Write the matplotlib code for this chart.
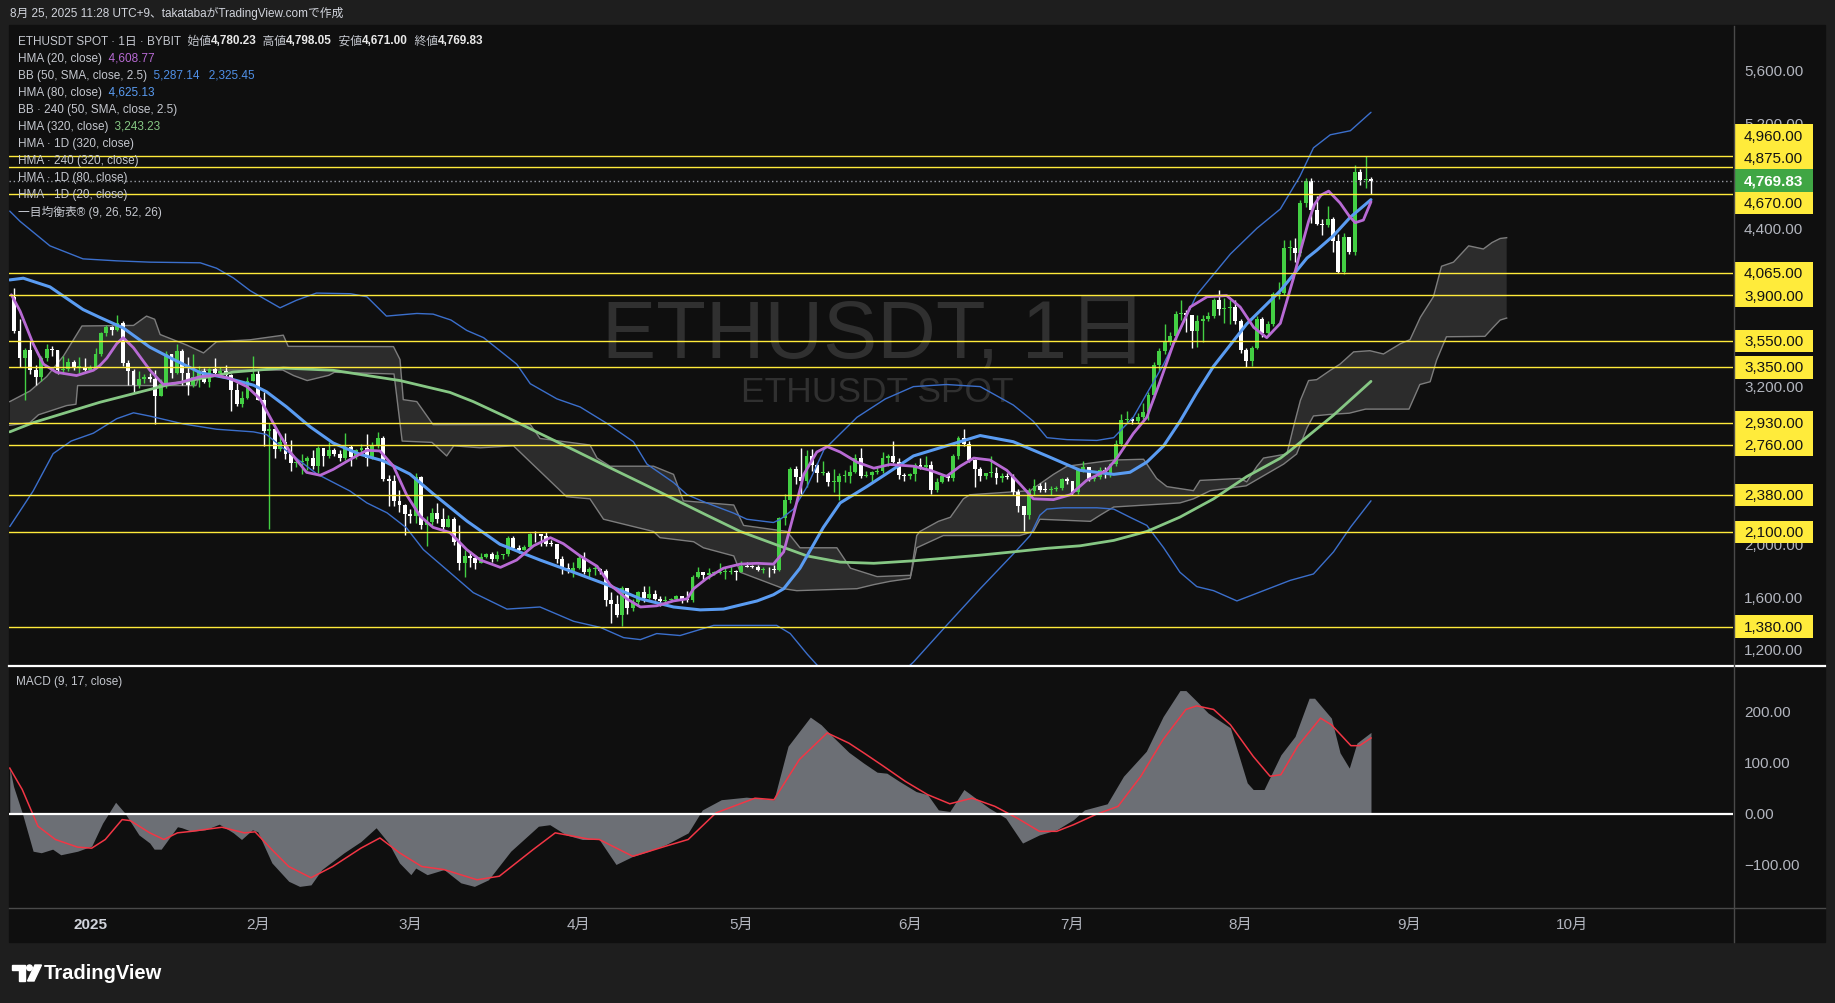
import numpy as np
import matplotlib.pyplot as plt
from matplotlib.patches import Rectangle, Polygon, Ellipse
from matplotlib.lines import Line2D
from matplotlib.transforms import blended_transform_factory as blend

plt.rcParams['font.family'] = ['Liberation Sans', 'Noto Sans CJK JP']

W, H = 1835, 1004

# ---------------- data ----------------
# day index 0 = 2025-01-01, first candle = 2024-12-18
first_day = -14
first_open = 3887.9
closes = [
    3628, 3420, 3480, 3330, 3280, 3420, 3490, 3480, 3330, 3335, 3390, 3350, 3355, 3330,  # Dec
    3355, 3450, 3610, 3655, 3635, 3685, 3380, 3325, 3220, 3265, 3280, 3265, 3135, 3225, 3450, 3310,
    3475, 3305, 3220, 3280, 3325, 3240, 3340, 3305, 3320, 3290, 3180, 3075, 3115, 3250, 3300,  # Jan
    3105, 2870, 2885, 2730, 2785, 2690, 2620, 2630, 2635, 2660, 2600, 2740, 2675, 2725, 2690, 2660,
    2745, 2670, 2720, 2740, 2660, 2760, 2815, 2500, 2490, 2335, 2305, 2235,  # Feb
    2220, 2520, 2150, 2175, 2240, 2200, 2140, 2200, 2020, 1865, 1920, 1905, 1865, 1910, 1935, 1890,
    1925, 1930, 2055, 1980, 1965, 1985, 2085, 2080, 2065, 2010, 2005, 1895, 1825, 1805, 1825,  # Mar
    1905, 1795, 1815, 1818, 1805, 1580, 1555, 1470, 1670, 1520, 1570, 1645, 1595, 1625, 1590, 1575,
    1585, 1588, 1615, 1585, 1580, 1755, 1795, 1770, 1785, 1790, 1795, 1798, 1802, 1795,  # Apr
    1840, 1836, 1834, 1810, 1816, 1814, 1810, 2205, 2345, 2580, 2515, 2490, 2680, 2610, 2545, 2548,
    2478, 2480, 2522, 2527, 2555, 2665, 2525, 2530, 2555, 2565, 2660, 2680, 2630, 2530, 2528,  # May
    2540, 2610, 2595, 2610, 2415, 2480, 2525, 2510, 2680, 2815, 2770, 2645, 2580, 2525, 2545, 2548,
    2510, 2525, 2515, 2405, 2295, 2230, 2410, 2450, 2420, 2415, 2425, 2435, 2500, 2485,  # Jun
    2405, 2570, 2590, 2505, 2515, 2570, 2540, 2615, 2770, 2950, 2960, 2940, 2970, 3010, 3140, 3370,
    3475, 3545, 3590, 3755, 3765, 3745, 3630, 3705, 3720, 3740, 3865, 3795, 3798, 3810, 3700,  # Jul
    3480, 3395, 3495, 3720, 3610, 3680, 3905, 3915, 4255, 4260, 4220, 4600, 4765, 4550, 4440, 4430,
    4475, 4310, 4075, 4340, 4230, 4835, 4775, 4780.23, 4769.83,  # Aug
]
highs = [
    3950, 3720, 3500, 3550, 3370, 3440, 3530, 3515, 3480, 3440, 3420, 3410, 3430, 3420,
    3370, 3500, 3620, 3670, 3665, 3745, 3700, 3410, 3340, 3320, 3300, 3310, 3330, 3260, 3475, 3450,
    3525, 3490, 3430, 3450, 3360, 3345, 3345, 3420, 3350, 3370, 3300, 3230, 3170, 3280, 3440,
    3330, 3160, 2925, 2890, 2830, 2855, 2800, 2650, 2690, 2680, 2720, 2750, 2730, 2780, 2735, 2720,
    2850, 2760, 2730, 2770, 2845, 2780, 2860, 2830, 2535, 2530, 2420, 2310,
    2275, 2550, 2525, 2220, 2280, 2320, 2280, 2225, 2215, 2150, 1960, 1955, 1925, 1940, 1940, 1950,
    1955, 1935, 2070, 2070, 2000, 2000, 2090, 2105, 2070, 2100, 2040, 2000, 1920, 1860, 1870,
    1925, 1950, 1835, 1840, 1825, 1820, 1640, 1620, 1690, 1670, 1590, 1650, 1685, 1690, 1660, 1610,
    1615, 1595, 1620, 1615, 1650, 1770, 1830, 1795, 1825, 1805, 1860, 1825, 1840, 1810,
    1875, 1870, 1850, 1845, 1830, 1830, 1850, 2210, 2390, 2590, 2600, 2740, 2720, 2730, 2620, 2640,
    2560, 2580, 2550, 2570, 2610, 2690, 2735, 2560, 2560, 2590, 2710, 2690, 2790, 2660, 2545,
    2545, 2620, 2660, 2680, 2640, 2510, 2535, 2540, 2690, 2830, 2880, 2790, 2650, 2590, 2550, 2680,
    2590, 2550, 2545, 2540, 2425, 2300, 2430, 2500, 2470, 2480, 2450, 2445, 2510, 2520,
    2490, 2585, 2640, 2595, 2525, 2590, 2590, 2625, 2800, 2995, 3020, 2975, 3000, 3080, 3160, 3390,
    3500, 3680, 3620, 3780, 3860, 3790, 3740, 3750, 3745, 3770, 3875, 3940, 3880, 3865, 3865,
    3720, 3500, 3510, 3740, 3730, 3700, 3920, 4000, 4320, 4320, 4330, 4620, 4790, 4790, 4650, 4480,
    4580, 4490, 4365, 4370, 4345, 4885, 4860, 4956, 4798.05,
]
lows = [
    3610, 3350, 3100, 3300, 3220, 3250, 3400, 3440, 3300, 3300, 3320, 3330, 3310, 3320,
    3325, 3340, 3440, 3590, 3600, 3630, 3360, 3220, 3160, 3190, 3230, 3240, 2920, 3130, 3190, 3270,
    3300, 3220, 3140, 3200, 3200, 3230, 3200, 3290, 3290, 3280, 3020, 3060, 3050, 3110, 3260,
    3100, 2750, 2120, 2660, 2715, 2650, 2560, 2590, 2540, 2570, 2580, 2550, 2600, 2665, 2680, 2640,
    2645, 2600, 2650, 2700, 2600, 2650, 2740, 2490, 2300, 2300, 2250, 2075,
    2170, 2170, 2120, 1995, 2150, 2170, 2110, 2135, 2000, 1810, 1755, 1830, 1820, 1860, 1900, 1870,
    1880, 1890, 1915, 1960, 1940, 1960, 1975, 2020, 1990, 1990, 1990, 1860, 1780, 1785, 1760,
    1820, 1780, 1760, 1770, 1780, 1540, 1410, 1450, 1385, 1475, 1500, 1545, 1570, 1590, 1580, 1540,
    1565, 1570, 1580, 1560, 1570, 1570, 1750, 1725, 1745, 1775, 1780, 1745, 1780, 1735,
    1795, 1830, 1825, 1800, 1790, 1760, 1790, 1805, 2150, 2320, 2460, 2390, 2440, 2560, 2480, 2530,
    2450, 2400, 2345, 2480, 2470, 2550, 2510, 2520, 2475, 2540, 2550, 2600, 2620, 2500, 2490,
    2500, 2485, 2580, 2580, 2390, 2400, 2470, 2485, 2490, 2650, 2750, 2630, 2440, 2490, 2500, 2520,
    2460, 2480, 2500, 2380, 2250, 2110, 2200, 2380, 2400, 2400, 2380, 2410, 2420, 2460,
    2380, 2390, 2555, 2490, 2490, 2505, 2510, 2520, 2600, 2750, 2930, 2920, 2925, 2960, 2950, 3120,
    3320, 3450, 3520, 3560, 3710, 3620, 3500, 3505, 3540, 3700, 3725, 3750, 3690, 3680, 3680,
    3460, 3355, 3360, 3490, 3580, 3590, 3665, 3870, 3900, 4165, 4150, 4200, 4570, 4450, 4430, 4360,
    4420, 4230, 4065, 4060, 4215, 4205, 4740, 4715, 4671,
]

# indicator lines: (day, value)
hma20 = [(-14.5, 3902), (-12.9, 3778), (-10.5, 3530), (-8.6, 3375), (-6.2, 3313), (-2.5, 3288),
         (0.6, 3328), (1.8, 3364), (3.1, 3421), (4.9, 3530), (6.1, 3576), (8.0, 3499), (11.0, 3330),
         (13.5, 3220), (16.6, 3235), (20.3, 3280), (23.3, 3290), (25.8, 3266), (28.9, 3204),
         (31.3, 3111), (34.4, 2878), (36.8, 2710), (39.9, 2552), (42.4, 2530), (44.8, 2575),
         (47.9, 2650), (51.0, 2720), (53.4, 2715), (55.9, 2599), (58.3, 2382), (60.8, 2220),
         (63.2, 2134), (66.3, 2095), (69.4, 1965), (71.9, 1886), (75.6, 1830), (78.6, 1886),
         (81.7, 1994), (84.8, 2056), (87.2, 2010), (90.3, 1917), (93.4, 1839), (95.8, 1699),
         (98.9, 1591), (101.4, 1529), (104.4, 1538), (107.5, 1575), (110.0, 1591), (111.2, 1668),
         (113.6, 1746), (116.7, 1824), (119.8, 1855), (122.9, 1861), (125.9, 1855), (127.8, 1948),
         (129.6, 2227), (131.5, 2537), (133.9, 2707), (135.8, 2748), (138.2, 2707), (141.3, 2630),
         (144.4, 2584), (147.4, 2612), (151.7, 2599), (154.8, 2568), (157.8, 2522), (160.3, 2599),
         (162.8, 2661), (165.8, 2646), (168.9, 2568), (171.4, 2460), (173.8, 2351), (177.5, 2345),
         (180.6, 2382), (183.6, 2491), (187.3, 2568), (189.2, 2661), (192.2, 2847), (194.7, 2971),
         (197.2, 3250), (199.6, 3530), (202.7, 3809), (205.8, 3887), (209.4, 3896), (211.9, 3809),
         (214.4, 3654), (216.8, 3576), (219.3, 3685), (221.7, 4026), (223.1, 4250), (224.5, 4460),
         (225.6, 4590), (226.8, 4660), (228.2, 4690), (230.3, 4600), (232.0, 4500), (233.1, 4450),
         (234.6, 4470), (236.0, 4609)]
hma80 = [(-14.8, 4015), (-12.3, 4028), (-7.4, 3962), (-1.3, 3790), (1.8, 3730), (6.1, 3650),
         (11.0, 3504), (15.4, 3410), (20.3, 3310), (25.2, 3270), (30.1, 3215), (32.5, 3165),
         (36.2, 3050), (40.5, 2900), (44.8, 2775), (49.7, 2690), (54.0, 2640), (58.9, 2540),
         (63.2, 2390), (69.4, 2183), (75.5, 2006), (82.9, 1886), (89.1, 1793), (95.2, 1699),
         (101.4, 1591), (107.5, 1529), (112.4, 1507), (116.7, 1513), (122.9, 1575), (125.9, 1622),
         (127.8, 1668), (130.8, 1824), (135.1, 2134), (138.2, 2320), (143.1, 2444), (147.4, 2560),
         (151.7, 2677), (157.8, 2754), (164.0, 2832), (170.1, 2785), (176.3, 2677), (182.4, 2568),
         (188.6, 2537), (191.6, 2553), (194.7, 2630), (197.8, 2754), (200.8, 2940), (203.9, 3157),
         (207.0, 3359), (213.1, 3680), (219.3, 3933), (224.2, 4181), (226.0, 4240), (229.1, 4352),
         (232.2, 4492), (236.0, 4625)]
hma320 = [(-14.8, 2860), (-10.5, 2930), (1.8, 3085), (14.1, 3215), (26.4, 3315), (35.6, 3345),
          (44.8, 3328), (57.1, 3250), (66.3, 3160), (70.6, 3090), (76.8, 2971), (82.9, 2847),
          (89.1, 2723), (95.2, 2599), (101.4, 2475), (107.5, 2351), (113.6, 2227), (119.8, 2103),
          (125.9, 2010), (132.1, 1917), (138.2, 1870), (144.4, 1861), (151.7, 1880), (157.8, 1901),
          (164.0, 1923), (170.1, 1948), (176.3, 1975), (182.4, 1994), (188.6, 2035), (194.7, 2103),
          (200.8, 2212), (207.0, 2351), (213.1, 2520), (219.3, 2660), (221.1, 2717), (229.1, 2987),
          (236.0, 3244)]
bb_upper = [(-14.8, 4538), (-12.9, 4460), (-7.4, 4274), (-1.3, 4175), (4.9, 4160), (11.0, 4150),
            (20.3, 4145), (23.3, 4104), (26.4, 4030), (29.5, 3933), (35.0, 3803), (38.0, 3860),
            (41.7, 3915), (48.0, 3910), (51.0, 3887), (54.6, 3740), (60.2, 3760), (63.2, 3755),
            (66.5, 3710), (69.4, 3631), (72.5, 3576), (78.6, 3375), (81.1, 3226), (86.0, 3111),
            (90.3, 3049), (95.2, 2925), (100.1, 2785), (102.6, 2615), (107.5, 2475), (110.0, 2382),
            (113.6, 2320), (118.6, 2242), (121.0, 2196), (125.9, 2171), (127.2, 2196), (129.6, 2273),
            (132.1, 2444), (135.2, 2723), (141.3, 2971), (146.5, 3110), (151.7, 3204), (157.8, 3220),
            (164.0, 3204), (170.1, 3064), (173.8, 2940), (176.3, 2816), (180.0, 2801), (185.5, 2795),
            (188.6, 2816), (192.2, 2971), (197.8, 3375), (203.9, 3902), (210.1, 4212), (215.0, 4408),
            (219.3, 4554), (222.9, 4802), (225.4, 5019), (228.5, 5118), (232.2, 5149), (236.0, 5289)]
bb_lower = [(-14.8, 2140), (-10.5, 2410), (-6.8, 2695), (-3.5, 2790), (0.6, 2850), (4.9, 2960),
            (8.0, 3005), (11.0, 2980), (17.2, 2920), (23.3, 2880), (30.1, 2860), (32.5, 2840),
            (35.6, 2735), (41.8, 2540), (47.9, 2410), (51.0, 2320), (54.7, 2245), (58.3, 2130),
            (61.4, 1965), (64.5, 1855), (70.6, 1638), (76.8, 1513), (82.9, 1529), (89.1, 1420),
            (94.0, 1374), (98.3, 1296), (101.4, 1281), (104.4, 1327), (108.7, 1312), (114.9, 1389),
            (126.5, 1389), (129.0, 1327), (132.1, 1172), (134.0, 1085), (138.0, 990), (144.0, 960),
            (149.0, 1010), (151.7, 1110), (157.8, 1389), (164.0, 1668), (170.1, 1932), (173.2, 2072),
            (175.0, 2227), (176.3, 2273), (179.3, 2283), (185.5, 2283), (188.6, 2273), (191.6, 2211),
            (194.7, 2149), (197.8, 1979), (200.8, 1793), (203.9, 1684), (207.0, 1653), (211.3, 1575),
            (216.2, 1653), (221.1, 1731), (225.4, 1780), (229.1, 1948), (232.2, 2134), (236.0, 2336)]
cloud_top = [(-14.8, 3090), (-11.1, 3170), (-8.0, 3280), (-4.9, 3437), (-1.5, 3665), (8.0, 3669),
             (10.4, 3740), (11.9, 3716), (12.9, 3600), (17.8, 3520), (20.9, 3460), (23.3, 3545),
             (29.5, 3560), (35.6, 3595), (36.5, 3510), (55.9, 3508), (57.1, 3410), (57.7, 3105),
             (60.2, 3090), (63.2, 2915), (81.1, 2916), (82.9, 2810), (92.1, 2760), (93.4, 2661),
             (95.8, 2599), (103.8, 2599), (107.5, 2537), (109.3, 2336), (118.6, 2304), (120.4, 2149),
             (128.4, 2103), (130.8, 1979), (137.6, 1979), (140.1, 1824), (145.0, 1760), (151.2, 1770),
             (152.3, 2072), (152.9, 2103), (156.3, 2180), (158.5, 2211), (160.9, 2351), (162.1, 2382),
             (173.2, 2413), (177.5, 2537), (180.0, 2599), (188.6, 2646), (194.1, 2652), (196.5, 2506),
             (198.4, 2444), (203.3, 2413), (204.5, 2491), (211.9, 2506), (213.1, 2480), (215.0, 2599),
             (216.2, 2661), (220.5, 2692), (221.7, 2894), (223.0, 3100), (224.5, 3250), (226.0, 3257),
             (228.5, 3328), (230.3, 3375), (232.8, 3468), (235.8, 3477), (238.3, 3452), (241.4, 3530),
             (243.2, 3561), (245.1, 3731), (247.5, 3887), (249.0, 4119), (251.2, 4150), (254.0, 4274),
             (256.7, 4250), (258.3, 4299), (259.8, 4330), (261.0, 4336)]
cloud_bottom = [(-14.8, 2910), (-11.1, 2930), (-9.5, 2990), (-4.3, 3060), (-2.6, 3070), (-2.3, 3212),
                (19.5, 3212), (20.5, 3330), (35.5, 3330), (37.5, 3288), (40.0, 3250), (44.0, 3290),
                (45.0, 3313), (56.0, 3300), (57.5, 2790), (63.0, 2780), (65.7, 2677), (67.0, 2754),
                (71.9, 2739), (78.0, 2754), (82.3, 2584), (87.8, 2367), (92.1, 2351), (94.6, 2196),
                (103.8, 2103), (105.0, 2056), (111.2, 2025), (113.0, 1979), (118.6, 1917), (119.8, 1793),
                (127.8, 1668), (130.2, 1653), (141.3, 1668), (144.4, 1699), (147.4, 1724), (151.1, 1746),
                (152.3, 1979), (157.2, 2072), (171.3, 2072), (173.8, 2103), (175.0, 2196), (184.3, 2180),
                (186.1, 2227), (188.6, 2289), (200.8, 2320), (203.3, 2351), (206.4, 2413), (213.0, 2450),
                (219.9, 2615), (222.3, 2692), (224.2, 2890), (225.4, 2981), (228.5, 2993), (232.0, 3002),
                (235.0, 3033), (243.0, 3033), (245.0, 3220), (246.9, 3241), (248.1, 3406), (249.9, 3583),
                (257.0, 3586), (258.5, 3654), (259.8, 3710), (261.0, 3725)]
macd = [(-14.8, 90), (-14.1, 54), (-12.5, 2), (-10.5, -73), (-9.0, -76), (-6.9, -69), (-5.4, -80),
        (-2.3, -73), (0.3, -63), (2.3, -18), (4.7, 23), (6.4, 2), (9.0, -41), (11.0, -57), (11.8, -69),
        (13.1, -69), (16.1, -25), (16.9, -27), (18.7, -34), (21.2, -31), (23.8, -20), (26.4, -37),
        (27.9, -50), (29.9, -31), (30.9, -35), (33.5, -96), (36.6, -132), (38.6, -142), (40.7, -139),
        (42.7, -109), (46.8, -76), (49.9, -54), (52.7, -27), (55.0, -57), (57.0, -96), (59.1, -119),
        (60.0, -106), (62.1, -119), (65.2, -109), (68.3, -135), (70.8, -142), (73.4, -129), (77.5, -73),
        (82.6, -24), (84.7, -21), (87.7, -41), (90.7, -50), (93.8, -50), (96.9, -99), (100.0, -83),
        (103.0, -73), (106.1, -60), (110.2, -37), (112.8, 8), (116.3, 28), (120.9, 33), (126.0, 28),
        (128.6, 133), (132.7, 190), (134.7, 175), (136.8, 152), (139.8, 121), (142.5, 100), (145.0, 82),
        (146.8, 80), (149.1, 64), (152.2, 44), (154.3, 38), (156.3, 8), (158.4, 5), (161.0, 48),
        (165.6, 12), (168.7, -8), (171.8, -57), (174.9, -41), (178.1, -31), (181.2, -11), (183.2, 8),
        (187.4, 20), (190.4, 74), (194.6, 123), (197.7, 191), (200.8, 242), (201.9, 242), (203.9, 221),
        (206.0, 198), (210.1, 169), (213.2, 61), (214.3, 48), (216.3, 48), (219.4, 116), (222.0, 152),
        (224.6, 227), (225.6, 227), (228.7, 188), (230.3, 120), (232.0, 90), (233.4, 139), (236.0, 160)]
signal = [(-14.8, 90), (-12.5, 48), (-9.6, -24), (-6.4, -50), (-2.3, -65), (0.3, -67), (2.8, -50),
          (5.9, -11), (7.4, -13), (11.0, -37), (13.6, -50), (16.1, -37), (18.7, -34), (24.3, -26),
          (28.4, -37), (30.4, -35), (33.5, -70), (36.6, -103), (40.7, -125), (44.7, -103), (49.9, -67),
          (53.4, -47), (57.0, -76), (61.1, -103), (65.2, -109), (71.3, -129), (75.4, -122), (81.6, -70),
          (85.7, -37), (91.8, -49), (93.8, -50), (100.0, -83), (106.1, -63), (110.2, -50), (115.3, 2),
          (122.5, 31), (126.0, 28), (130.7, 107), (135.8, 159), (139.8, 139), (142.8, 118), (146.0, 95),
          (150.2, 64), (154.3, 38), (158.4, 20), (162.5, 31), (166.7, 15), (170.8, -8), (174.9, -34),
          (178.1, -34), (181.2, -21), (185.3, -1), (189.4, 15), (193.6, 74), (197.7, 146), (201.9, 205),
          (203.9, 212), (207.0, 205), (210.1, 175), (214.3, 113), (217.4, 74), (219.4, 77), (222.5, 133),
          (226.7, 188), (228.7, 175), (232.3, 134), (233.9, 134), (236.0, 149)]

levels = [4960, 4875, 4670, 4065, 3900, 3550, 3350, 2930, 2760, 2380, 2100, 1380]
price_ticks = [1200, 1600, 2000, 2400, 2800, 3200, 3600, 4000, 4400, 4800, 5200, 5600]
macd_ticks = [-100, 0, 100, 200]
month_days = [0, 31, 59, 90, 120, 151, 181, 212, 243, 273]
month_labels = ['2025', '2月', '3月', '4月', '5月', '6月', '7月', '8月', '9月', '10月']

# ---------------- colours ----------------
BG = '#0f0f0f'
FRAME = '#1e1e1e'
UP = '#43cf43'
DOWN = '#ffffff'
YELLOW = '#ffeb3b'
AXTXT = '#b2b5be'
LEGTXT = '#c5c8cf'


def fx(x):
    return x / W


def fy(y):
    return 1 - y / H


fig = plt.figure(figsize=(W / 100, H / 100), dpi=100, facecolor=FRAME)
fig.patches.append(Rectangle((fx(9), fy(943)), fx(1825) - fx(9), fy(26) - fy(943),
                             transform=fig.transFigure, color=BG, zorder=-5))

ax = fig.add_axes([fx(9), fy(666), fx(1733) - fx(9), fy(27) - fy(666)])
ax2 = fig.add_axes([fx(9), fy(908), fx(1733) - fx(9), fy(667) - fy(908)])
for a in (ax, ax2):
    a.set_facecolor(BG)
    a.set_xticks([])
    a.set_yticks([])
    for s in a.spines.values():
        s.set_visible(False)
    a.set_xlim(-14.94, 302.7)
ax.set_ylim(1088, 5945)
ax2.set_ylim(-182.4, 290.2)

# watermark
ax.text(0.5025, 0.516, 'ETHUSDT, 1日', transform=ax.transAxes, ha='center', va='center',
        fontsize=58.5, color='#303030', zorder=1)
ax.text(0.5035, 0.428, 'ETHUSDT SPOT', transform=ax.transAxes, ha='center', va='center',
        fontsize=25.5, color='#303030', zorder=1)

# ichimoku cloud
ct = np.array(cloud_top).T
cb = np.array(cloud_bottom).T
ax.add_patch(Polygon(np.column_stack([np.concatenate([ct[0], cb[0][::-1]]),
                                      np.concatenate([ct[1], cb[1][::-1]])]),
                     closed=True, facecolor='#2c2c2c', edgecolor='none', zorder=2))
ax.plot(ct[0], ct[1], color='#7d7d7d', lw=1, zorder=2.5)
ax.plot(cb[0], cb[1], color='#7d7d7d', lw=1, zorder=2.5)

# candles
days = np.arange(first_day, first_day + len(closes))
c = np.array(closes, float)
o = np.array([first_open] + closes[:-1], float)
h = np.array(highs, float)
lo = np.array(lows, float)
cols = np.where(c >= o, UP, DOWN)
ax.vlines(days, np.minimum(lo, np.minimum(o, c)), np.maximum(h, np.maximum(o, c)),
          colors=cols, lw=1, zorder=4)
ax.bar(days, np.maximum(np.abs(c - o), 7), bottom=np.minimum(o, c), width=0.72,
       color=cols, linewidth=0, zorder=5)

# indicator lines
for pts, col, lw in [(bb_upper, '#3b6fcc', 1.0), (bb_lower, '#3b6fcc', 1.0),
                     (hma320, '#86c784', 2.0), (hma80, '#5a9cf2', 2.2), (hma20, '#b86ad4', 2.0)]:
    arr = np.array(pts).T
    ax.plot(arr[0], arr[1], color=col, lw=lw, zorder=6, solid_capstyle='round')

# horizontal levels
for lv in levels:
    ax.axhline(lv, color=YELLOW, lw=1, zorder=7)
last_close = closes[-1]
ax.axhline(last_close, color='#9a9da5', lw=1, ls=(0, (1, 2)), zorder=7)

# right price scale: label boxes pushed apart around the last price
tr = blend(ax.transAxes, ax.transData)
lab_x = (1744 - 9) / 1724
box_x = (1734 - 9) / 1724
box_w = 79 / 1724
label_h = 171.0  # one label box, in price units
pos = {}
prev = last_close
for lv in sorted([v for v in levels if v > last_close]):
    prev = max(lv, prev + label_h)
    pos[lv] = prev
prev = last_close
for lv in sorted([v for v in levels if v < last_close], reverse=True):
    prev = min(lv, prev - label_h)
    pos[lv] = prev
box_centres = list(pos.values()) + [last_close]


def hidden(p):
    span = np.linspace(p - 40, p + 40, 9)
    return all(any(abs(s - bc) <= label_h / 2 for bc in box_centres) for s in span)


for p in price_ticks:
    if hidden(p):
        continue
    ax.text(lab_x, p, f'{p:,.2f}', transform=tr, ha='left', va='center', fontsize=11,
            color=AXTXT, clip_on=False, zorder=8)

for lv, yc in pos.items():
    ax.add_patch(Rectangle((box_x, yc - label_h / 2), box_w, label_h, transform=tr,
                           facecolor=YELLOW, edgecolor='none', clip_on=False, zorder=9))
    ax.text(lab_x, yc, f'{lv:,.2f}', transform=tr, ha='left', va='center', fontsize=11,
            color='#131313', clip_on=False, zorder=10)
ax.add_patch(Rectangle((box_x, last_close - label_h / 2), box_w, label_h, transform=tr,
                       facecolor='#40a644', edgecolor='none', clip_on=False, zorder=9))
ax.text(lab_x, last_close, f'{last_close:,.2f}', transform=tr, ha='left', va='center',
        fontsize=11, color='white', fontweight='bold', clip_on=False, zorder=10)

# MACD pane
m = np.array(macd).T
sg = np.array(signal).T
ax2.fill_between(m[0], m[1], 0, color='#6c6f75', lw=0, zorder=2)
ax2.plot(sg[0], sg[1], color='#f23645', lw=1.1, zorder=3)
ax2.axhline(0, color='white', lw=1.6, zorder=4)
tr2 = blend(ax2.transAxes, ax2.transData)
for v in macd_ticks:
    ax2.text(lab_x, v, f'{v:.2f}'.replace('-', '−'), transform=tr2, ha='left', va='center',
             fontsize=11, color=AXTXT, clip_on=False)
ax2.text(fx(16), fy(682), 'MACD (9, 17, close)', transform=fig.transFigure, ha='left',
         va='center', fontsize=8.5, color=LEGTXT)

# time axis
trx = blend(ax2.transData, fig.transFigure)
for dd, lab in zip(month_days, month_labels):
    ax2.text(dd, fy(925), lab, transform=trx, ha='center', va='center', fontsize=11,
             color='#d1d4dc' if lab == '2025' else AXTXT,
             fontweight='bold' if lab == '2025' else 'normal', clip_on=False)

# frame lines
fig.add_artist(Line2D([fx(9), fx(1825)], [fy(666.5)] * 2, color='white', lw=1.6,
                      transform=fig.transFigure))
fig.add_artist(Line2D([fx(1733.5)] * 2, [fy(27), fy(943)], color='#4a4a4a', lw=1,
                      transform=fig.transFigure))
fig.add_artist(Line2D([fx(9), fx(1825)], [fy(908.5)] * 2, color='#4a4a4a', lw=1,
                      transform=fig.transFigure))


# legend
def text_line(y_px, parts, size=8.5):
    prev_t = None
    for txt, col, bold in parts:
        kw = dict(color=col, fontsize=size, fontweight='bold' if bold else 'normal',
                  va='center', ha='left', zorder=11)
        if prev_t is None:
            prev_t = ax.text(fx(17.6), fy(y_px), txt, transform=fig.transFigure, **kw)
        else:
            prev_t = ax.annotate(txt, xy=(1, 0.5), xycoords=prev_t, annotation_clip=False, **kw)


WH = '#e8e8e8'
legend_rows = [
    [('ETHUSDT SPOT · 1日 · BYBIT', LEGTXT, False), ('  始値', LEGTXT, False), ('4,780.23', WH, True),
     ('  高値', LEGTXT, False), ('4,798.05', WH, True), ('  安値', LEGTXT, False),
     ('4,671.00', WH, True), ('  終値', LEGTXT, False), ('4,769.83', WH, True)],
    [('HMA (20, close)', LEGTXT, False), ('  4,608.77', '#b86ad4', False)],
    [('BB (50, SMA, close, 2.5)', LEGTXT, False), ('  5,287.14', '#4f8fe6', False),
     ('   2,325.45', '#4f8fe6', False)],
    [('HMA (80, close)', LEGTXT, False), ('  4,625.13', '#5a9cf2', False)],
    [('BB · 240 (50, SMA, close, 2.5)', LEGTXT, False)],
    [('HMA (320, close)', LEGTXT, False), ('  3,243.23', '#86c784', False)],
    [('HMA · 1D (320, close)', LEGTXT, False)],
    [('HMA · 240 (320, close)', LEGTXT, False)],
    [('HMA · 1D (80, close)', LEGTXT, False)],
    [('HMA · 1D (20, close)', LEGTXT, False)],
    [('一目均衡表® (9, 26, 52, 26)', LEGTXT, False)],
]
for i, row in enumerate(legend_rows):
    text_line(41.5 + 17.05 * i, row)

# header
fig.text(fx(10), fy(14), '8月 25, 2025 11:28 UTC+9、takatabaがTradingView.comで作成',
         ha='left', va='center', fontsize=8.5, color='#d1d4dc')


# TradingView logo
def px_poly(pts, **kw):
    fig.patches.append(Polygon([(fx(x), fy(y)) for x, y in pts], closed=True,
                               transform=fig.transFigure, **kw))


px_poly([(12, 966), (25, 966), (25, 982), (19, 982), (19, 971), (12, 971)], color='white')
fig.patches.append(Ellipse((fx(29.5), fy(968.8)), 5.6 / W, 5.6 / H, transform=fig.transFigure,
                           color='white'))
px_poly([(35, 966), (41.5, 966), (34, 982), (27.5, 982)], color='white')
fig.text(fx(44), fy(974), 'TradingView', ha='left', va='center', fontsize=14.5,
         fontweight='bold', color='white')

fig.savefig('out.png', dpi=100, facecolor=FRAME)
